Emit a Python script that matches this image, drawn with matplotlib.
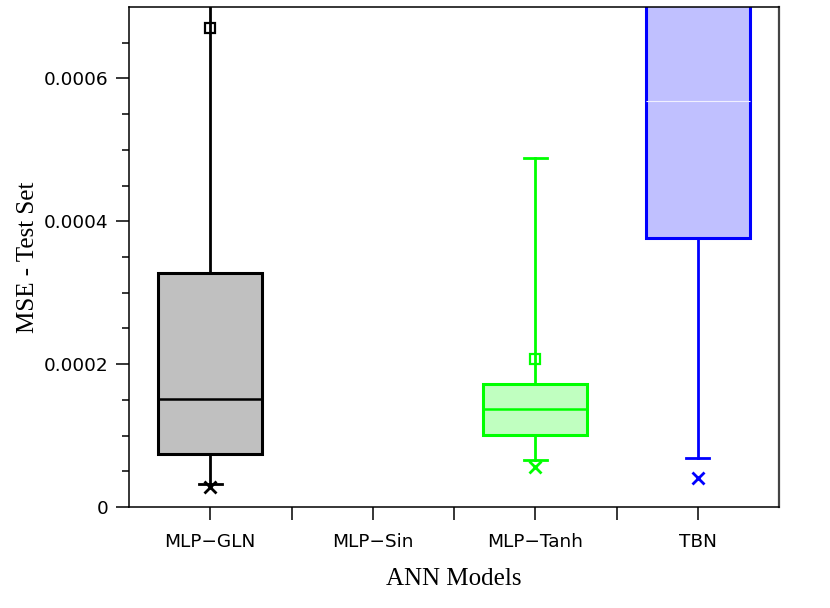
import numpy as np
import matplotlib
matplotlib.use('Agg')
import matplotlib.pyplot as plt
from matplotlib.ticker import FixedLocator

# box statistics (MSE on the test set)
models = ['MLP\u2212GLN', 'MLP\u2212Sin', 'MLP\u2212Tanh', 'TBN']
positions = [1, 3, 4]          # MLP-Sin has no box
q1 = [7.43e-5, 1.01e-4, 3.77e-4]
med = [1.51e-4, 1.37e-4, 5.69e-4]
q3 = [3.27e-4, 1.72e-4, 8.5e-4]
whislo = [3.2e-5, 6.6e-5, 6.9e-5]
whishi = [8.0e-4, 4.89e-4, 9.0e-4]
means = [6.70e-4, 2.07e-4, 9.5e-4]
pct1 = [2.8e-5, 5.6e-5, 4.1e-5]
yticks = [0, 0.0002, 0.0004, 0.0006]
ylabels = ['0', '0.0002', '0.0004', '0.0006']
yminor = [0.00005, 0.0001, 0.00015, 0.00025, 0.0003, 0.00035,
          0.00045, 0.0005, 0.00055, 0.00065]

edge = ['black', '#00ff00', '#0000ff']
fill = ['#c0c0c0', '#c0ffc0', '#c0c0ff']
medc = ['black', '#00ff00', '#f0f0ff']

fig = plt.figure(figsize=(8.3, 6.08), dpi=100)
ax = fig.add_axes([129/830, 101/608, 650/830, 500/608])

for i, p in enumerate(positions):
    st = [dict(q1=q1[i], med=med[i], q3=q3[i], whislo=whislo[i],
               whishi=whishi[i], mean=means[i], fliers=[])]
    ax.bxp(st, positions=[p], widths=0.64, capwidths=0.14, patch_artist=True,
           showmeans=True, showfliers=False,
           boxprops=dict(facecolor=fill[i], edgecolor=edge[i], linewidth=2.2),
           medianprops=dict(color=medc[i], linewidth=1.8 if i < 2 else 0.8),
           whiskerprops=dict(color=edge[i], linewidth=2.0),
           capprops=dict(color=edge[i], linewidth=2.0),
           meanprops=dict(marker='s', markerfacecolor='none',
                          markeredgecolor=edge[i], markersize=7,
                          markeredgewidth=1.6))
    ax.plot(p, pct1[i], 'x', color=edge[i], markersize=8, markeredgewidth=2.0)

ax.set_xlim(0.5, 4.5)
ax.set_ylim(0, 0.0007)

ax.xaxis.set_major_locator(FixedLocator([1, 2, 3, 4]))
ax.xaxis.set_minor_locator(FixedLocator([1.5, 2.5, 3.5]))
ax.set_xticklabels(models)
ax.yaxis.set_major_locator(FixedLocator(yticks))
ax.yaxis.set_minor_locator(FixedLocator(yminor))
ax.set_yticklabels(ylabels)

ax.tick_params(axis='both', which='both', direction='out', width=1.1,
               labelsize=13.3, top=False, right=False)
ax.tick_params(axis='x', which='both', length=9, pad=10)
ax.tick_params(axis='y', which='major', length=9.5, pad=5)
ax.tick_params(axis='y', which='minor', length=5)

for s in ['left', 'bottom', 'top']:
    ax.spines[s].set_linewidth(1.1)
ax.spines['right'].set_linewidth(1.6)
ax.spines['right'].set_color('#444444')

ax.set_xlabel('ANN Models', family='Liberation Serif', fontsize=18, labelpad=12)
ax.set_ylabel('MSE - Test Set', family='Liberation Serif', fontsize=18, labelpad=4)

fig.savefig('out.png', dpi=100)
